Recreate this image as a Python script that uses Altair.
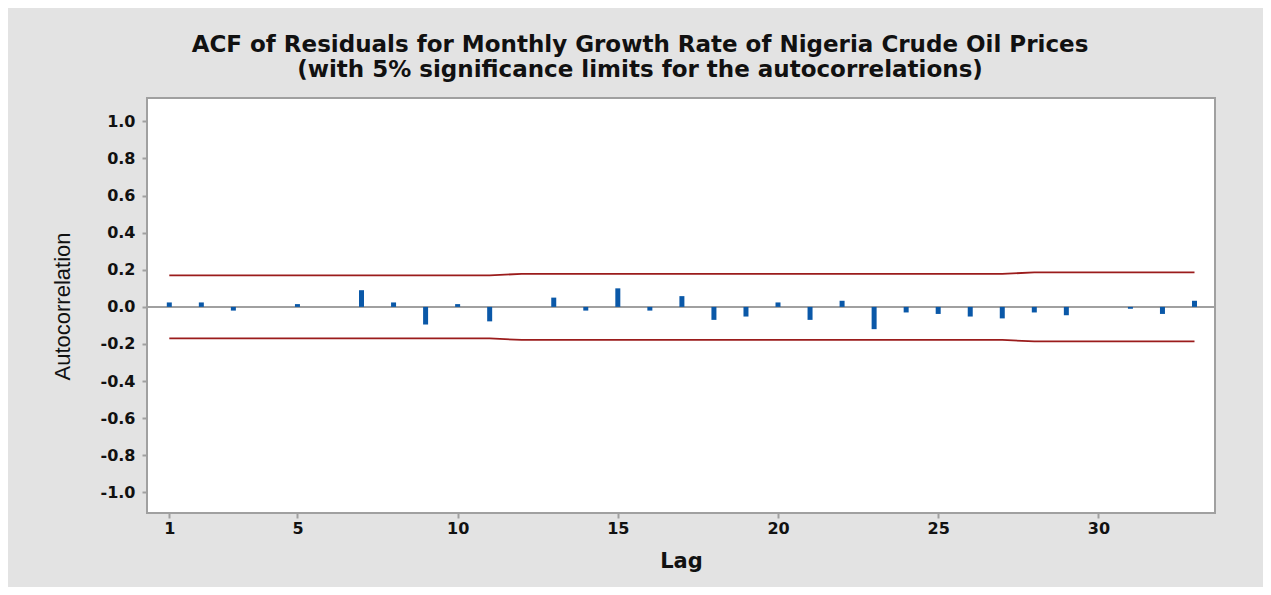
import altair as alt
import pandas as pd

# ---- data ----
lags = list(range(1, 34))
acf_values = [0.024, 0.024, -0.02, 0.0, 0.015, 0.0, 0.09, 0.024, -0.095, 0.015, -0.078,
              0.0, 0.05, -0.02, 0.1, -0.02, 0.058, -0.07, -0.052, 0.024, -0.07, 0.033,
              -0.12, -0.03, -0.038, -0.052, -0.062, -0.03, -0.045, 0.0, -0.01, -0.038, 0.033]
upper_limit = [0.170] * 11 + [0.178] * 16 + [0.186] * 6
lower_limit = [-v for v in upper_limit]
x_tick_values = [1, 5, 10, 15, 20, 25, 30]
y_tick_values = [-1.0, -0.8, -0.6, -0.4, -0.2, 0.0, 0.2, 0.4, 0.6, 0.8, 1.0]
zero_line = [0.0]

title_lines = ["ACF of Residuals for Monthly Growth Rate of Nigeria Crude Oil Prices",
               "(with 5% significance limits for the autocorrelations)"]

df = pd.DataFrame({"lag": lags, "acf": acf_values, "upper": upper_limit, "lower": lower_limit})
zdf = pd.DataFrame({"z": zero_line})

FONT = "DejaVu Sans"

x_scale = alt.Scale(domain=[0.304, 33.64], nice=False, zero=False, padding=0)
y_scale = alt.Scale(domain=[-1.111, 1.126], nice=False, zero=False)

x_axis = alt.Axis(values=x_tick_values, grid=False, domain=False, tickColor="#A0A0A0",
                  tickSize=5, tickWidth=2, labelFont=FONT, labelFontSize=16,
                  labelFontWeight="bold", labelColor="#111111", labelPadding=2,
                  title="Lag", titleFont=FONT, titleFontSize=21, titleFontWeight="bold",
                  titleColor="#111111", titleX=534, titleY=54, titleBaseline="alphabetic",
                  titleAlign="center")
y_axis = alt.Axis(values=y_tick_values, grid=False, domain=False, tickColor="#A0A0A0",
                  tickSize=5, tickWidth=2, labelFont=FONT, labelFontSize=16,
                  labelFontWeight="bold", labelColor="#111111", labelPadding=7,
                  labelExpr="(datum.value < 0 ? '-' : '') + format(abs(datum.value), '.1f')",
                  title="Autocorrelation", titleFont="Liberation Sans",
                  titleFontSize=22, titleFontWeight="normal", titleColor="#111111",
                  titleAngle=270, titleX=-85, titleY=208, titleAlign="center",
                  titleBaseline="middle")

X = alt.X("lag:Q", scale=x_scale, axis=x_axis)

zero = alt.Chart(zdf).mark_rule(color="#A0A0A0", strokeWidth=2).encode(
    y=alt.Y("z:Q", scale=y_scale, axis=y_axis)
)
bars = alt.Chart(df).mark_bar(size=5, color="#0A58A8").encode(
    x=X, y=alt.Y("acf:Q", scale=y_scale, axis=y_axis), y2=alt.datum(0)
)
up = alt.Chart(df).mark_line(color="#9B1C1C", strokeWidth=1.8).encode(
    x=X, y=alt.Y("upper:Q", scale=y_scale, axis=y_axis)
)
lo = alt.Chart(df).mark_line(color="#9B1C1C", strokeWidth=1.8).encode(
    x=X, y=alt.Y("lower:Q", scale=y_scale, axis=y_axis)
)

chart = alt.layer(zero, bars, up, lo).properties(
    width=1068, height=415,
    title=alt.TitleParams(text=title_lines, font=FONT, fontSize=23, fontWeight="bold",
                          color="#111111", anchor="middle", dx=-41, offset=16, lineHeight=25),
    background="#E3E3E3",
    padding={"left": 139, "top": 90, "right": 48, "bottom": 74},
    autosize=alt.AutoSizeParams(type="none"),
).configure_view(fill="white", stroke="#A0A0A0", strokeWidth=2)

chart.save("out.html", embed_options={"renderer": "svg", "actions": False})
